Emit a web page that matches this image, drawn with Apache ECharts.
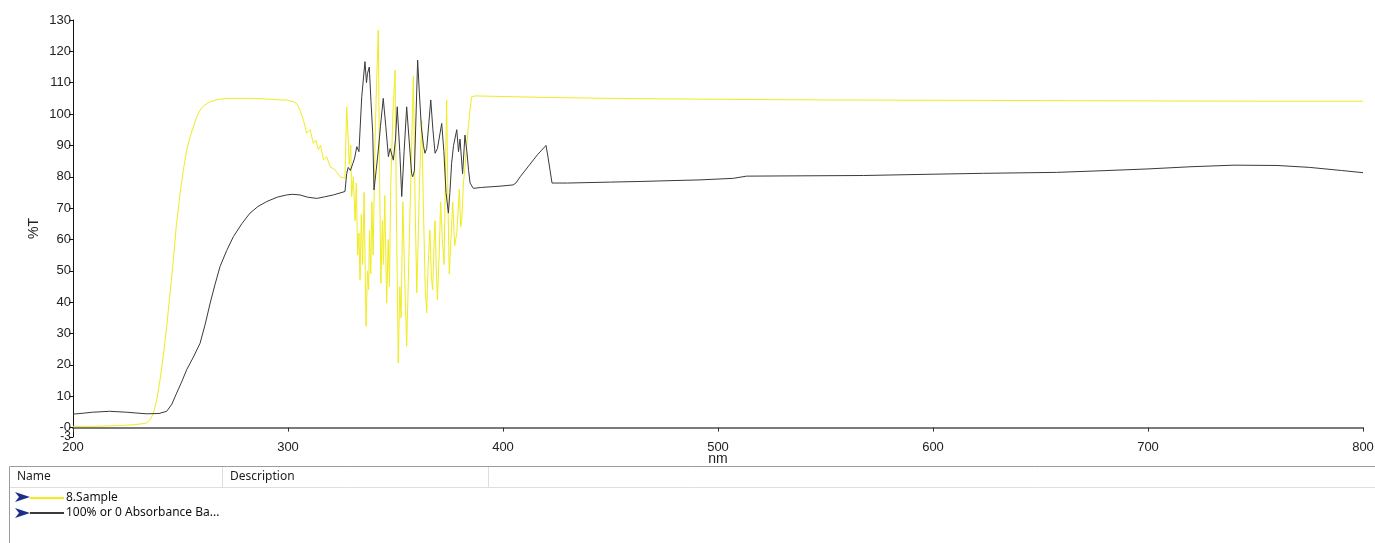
<!DOCTYPE html>
<html>
<head>
<meta charset="utf-8">
<script src="https://cdn.jsdelivr.net/npm/echarts@6/dist/echarts.min.js"></script>
<style>
html,body{margin:0;padding:0;background:#fff;}
#chart{width:1375px;height:543px;}
</style>
</head>
<body>
<div id="chart"></div>
<script>
// Series names (legend rows)
const seriesNames = ['8.Sample', '100% or 0 Absorbance Ba...'];

// x tick labels (nm) and y tick values (%T)
const xTicks = [200, 300, 400, 500, 600, 700, 800];
const yTicks = [0, 10, 20, 30, 40, 50, 60, 70, 80, 90, 100, 110, 120, 130];
const yMinTick = [-3];

// 8.Sample  [nm, %T]
const sampleData = [
[200,0.4],[210,0.4],[220,0.6],[228,0.9],[232,1.2],[234.3,1.5],[236,2.6],[237.4,4.6],[239,9],[240.5,15.3],
[242,23],[243.6,32.3],[245,42],[246.7,53.5],[248,64],[249.8,74.7],[251.4,82.5],[252.9,88.5],[254.5,92.8],[256,95.9],
[257.5,99],[259.1,101.3],[261,102.8],[263.8,103.9],[267,104.6],[271.5,105],[282.3,105],[290,104.8],[296.3,104.5],[299.4,104.5],
[302.5,103.9],[304,103.4],[305.6,101.3],[307.2,98],[308.7,93.9],[310.3,95],[311.8,90.6],[313,91.7],[314.1,88.6],[315.2,90],
[316.5,85.4],[318,86.4],[319.6,83.2],[321.9,82.2],[324.2,80],[326.5,79.5],
[327.3,102.3],[328,92],[328.5,84],[329.2,90],[329.6,73.7],[330.4,80],[331.2,66],[331.8,78],[332.4,55],[333,62],
[333.5,47],[334.1,68],[334.7,52],[335.4,75],[336.3,32.3],[337,50],[337.5,44],[337.9,63],[338.5,49],[339,72],
[339.6,55],[340.5,92],[341.2,110],[342,126.8],[342.6,80],[343.2,46],[343.9,66],[344.4,52],[345,74],[345.9,39.7],
[346.6,60],[347.2,45],[347.8,78],[348.8,100],[349.8,114],[350.4,70],[351.3,20.6],[352,45],[352.6,35],[353.4,72],
[354.2,50],[355.2,26],[356,48],[356.8,70],[357.5,90],[358.3,112],[359.1,72],[359.9,43],[360.5,58],[361.1,77],
[362.2,98],[363,70],[363.8,45],[364.5,36.6],[365.2,52],[366,63],[366.7,48],[367.3,44],[368,60],[368.4,66],
[369,50],[369.5,40.7],[370.3,55],[371,72],[371.8,60],[372.6,52],[373.2,80],[373.8,104.5],[374.4,72],[375,49],
[375.8,60],[376.6,72],[377.5,58],[378.5,62],[379.2,70],[379.7,76],[380.3,64],[380.8,66],[381.6,78],[382.3,83],
[383.1,90],[383.9,96],[384.6,101],[385.4,105.5],[387,105.8],[400,105.6],[420,105.3],
[450,105],[500,104.7],[550,104.5],[600,104.4],[650,104.3],[700,104.2],[750,104.1],[800,104.1]
];

// 100% or 0 Absorbance Baseline  [nm, %T]
const baselineData = [
[200,4.3],[205,4.6],[209,4.9],[217,5.2],[225,4.9],[234,4.4],[240,4.5],[243.6,5.2],[246,7.5],[248.2,11],
[250.5,14.5],[252.9,18.5],[256,22.5],[259.1,26.9],[261.5,33],[263.8,39.7],[266,45.5],[268.4,51.4],[271.5,56.5],[274.6,60.9],
[278.5,65],[282.3,68.4],[286,70.5],[290.1,72.1],[295,73.5],[299.4,74.2],[302,74.4],[305.6,74.2],[309,73.5],[313.4,73.1],
[317,73.6],[321.1,74.2],[326.5,75.3],[327.3,81],[328,83],[329,82],[330.2,84.3],[331,86],[332,89.6],[333,88],
[334.3,105.5],[335.8,116.7],[336.5,110],[337,113],[337.8,115],[338.6,104],[339.4,94],[340,75.8],[341,82],[342,88.5],
[343,96],[344.3,105],[345.5,96],[346.7,86.4],[347.5,89],[349,85.3],[350,92],[350.8,102.3],[352,88],[352.9,73.7],
[354,88],[355.2,102.3],[356.3,92],[357.5,81],[358,80],[358.8,82],[360.3,117.2],[361,108],[362,96],[363,90],
[363.7,87.5],[364.5,89],[365.5,97],[366.4,104.5],[367.4,95],[368.4,87.5],[369.5,89],[370.5,93],[371.5,97],[372.5,88],
[373.5,75],[374.6,68.4],[375.3,75],[376.1,84.3],[377,90],[378.5,95],[379.3,88],[380,92],[381.2,81],[382.3,93.3],
[383.2,88],[384,82],[384.7,78],[386.2,76.3],[390,76.6],[398.6,77],[404.7,77.4],[406,78],[408,80],[412,83.5],
[416,87],[420,90],[421,86],[422.8,78],[430,78],[450,78.3],[463.7,78.5],[480,78.8],[491.6,79],[507.1,79.5],
[513.3,80.2],[540,80.3],[567.6,80.4],[598.6,80.8],[623.4,81.1],[657.5,81.4],[677.7,81.9],[700,82.5],[720,83.2],[740,83.7],
[760,83.6],[775,83],[790,82],[800,81.3]
];

const chart = echarts.init(document.getElementById('chart'), null, {renderer: 'canvas'});

const tableFont = '"Noto Sans", "Open Sans", sans-serif';
const axisFont = '"Liberation Sans", Arial, sans-serif';
function arrow(y) {
  return {
    type: 'polygon', z: 10,
    shape: {points: [[15, y - 5], [30, y], [15, y + 5], [19, y]]},
    style: {fill: '#1c2e8c'}
  };
}

chart.setOption({
  animation: false,
  backgroundColor: '#fff',
  grid: {left: 73, right: 12, top: 20, bottom: 106, containLabel: false, outerBoundsMode: 'none'},
  legend: {
    data: seriesNames,
    orient: 'vertical',
    left: 30, top: 492,
    itemWidth: 34, itemHeight: 2, itemGap: 3,
    icon: 'rect', padding: 0,
    selectedMode: false,
    textStyle: {fontFamily: tableFont, fontSize: 12, color: '#111', padding: [0, 0, 0, -3]}
  },
  xAxis: {
    type: 'value', min: 200, max: 800, interval: 100,
    name: 'nm', nameLocation: 'middle', nameGap: 15, nameMoveOverlap: false,
    nameTextStyle: {fontFamily: axisFont, fontSize: 14, color: '#222'},
    axisLine: {lineStyle: {color: '#7a7a7a', width: 2}},
    axisTick: {show: true, length: 4, lineStyle: {color: '#333'}},
    axisLabel: {
      customValues: xTicks, showMinLabel: true, showMaxLabel: true,
      fontFamily: axisFont, fontSize: 13, color: '#222', margin: 4
    },
    splitLine: {show: false}
  },
  yAxis: [
    {
      type: 'value', min: -3, max: 130,
      name: '%T', nameLocation: 'middle', nameGap: 32, nameRotate: 90, nameMoveOverlap: false,
      nameTextStyle: {fontFamily: axisFont, fontSize: 14, color: '#222'},
      axisLine: {show: true, lineStyle: {color: '#111', width: 1}},
      axisTick: {show: true, customValues: yTicks, length: 4, lineStyle: {color: '#111'}},
      axisLabel: {
        customValues: yTicks, showMinLabel: true, showMaxLabel: true,
        formatter: v => (v === 0 ? '-0' : String(v)),
        fontFamily: axisFont, fontSize: 13, color: '#222', margin: 2
      },
      splitLine: {show: false}
    },
    {
      type: 'value', min: -3, max: 130, position: 'left', offset: 0,
      axisLine: {show: false},
      axisTick: {show: true, customValues: yMinTick, length: 4, lineStyle: {color: '#111'}},
      axisLabel: {
        customValues: yMinTick, showMinLabel: true,
        fontFamily: axisFont, fontSize: 12, color: '#222', margin: 2
      },
      splitLine: {show: false}
    }
  ],
  graphic: [
    {type: 'rect', z: -10, shape: {x: 9.5, y: 466.5, width: 1400, height: 100},
     style: {fill: '#fff', stroke: '#9c9c9c', lineWidth: 1}},
    {type: 'line', z: 2, shape: {x1: 10, y1: 487.5, x2: 1375, y2: 487.5}, style: {stroke: '#dedede', lineWidth: 1}},
    {type: 'line', z: 2, shape: {x1: 222.5, y1: 467, x2: 222.5, y2: 487}, style: {stroke: '#dedede', lineWidth: 1}},
    {type: 'line', z: 2, shape: {x1: 488.5, y1: 467, x2: 488.5, y2: 487}, style: {stroke: '#dedede', lineWidth: 1}},
    {type: 'text', z: 3, style: {x: 17, y: 477, text: 'Name', fontFamily: tableFont, fontSize: 12, fill: '#1e1e1e', verticalAlign: 'middle'}},
    {type: 'text', z: 3, style: {x: 230, y: 477, text: 'Description', fontFamily: tableFont, fontSize: 12, fill: '#1e1e1e', verticalAlign: 'middle'}},
    arrow(497),
    arrow(513)
  ],
  series: [
    {
      name: seriesNames[0], type: 'line', data: sampleData,
      showSymbol: false, symbol: 'none', z: 5,
      lineStyle: {color: '#f0ec1e', width: 1},
      itemStyle: {color: '#f0ec1e'}
    },
    {
      name: seriesNames[1], type: 'line', data: baselineData,
      showSymbol: false, symbol: 'none', z: 6,
      lineStyle: {color: '#3a3a3a', width: 1},
      itemStyle: {color: '#3a3a3a'}
    }
  ]
});
</script>
</body>
</html>
